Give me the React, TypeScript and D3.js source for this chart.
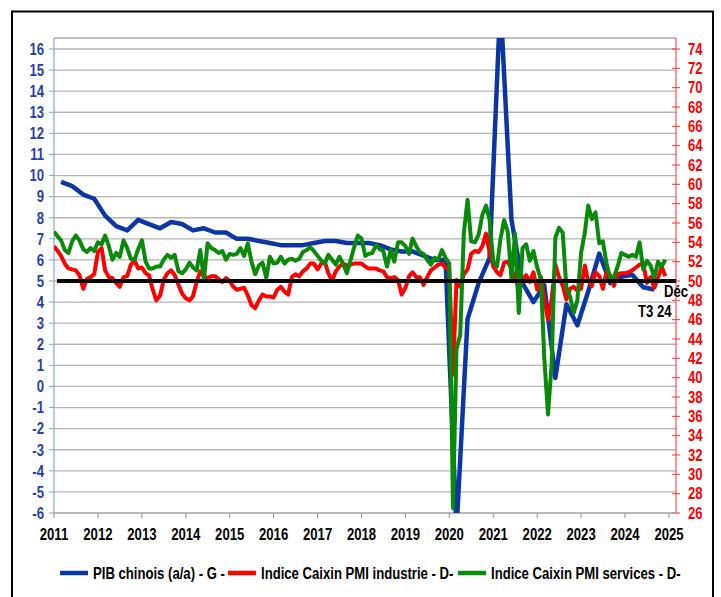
import { useEffect, useRef } from "react";
import * as d3 from "d3";

// axes
const yearTicks = d3.range(2011, 2026);
const leftTicks = d3.range(-6, 17);
const rightTicks = d3.range(26, 75, 2);

// PIB chinois (a/a), trimestriel, T1 2011 -> T3 2024
const gdp = [
  9.7, 9.5, 9.1, 8.9,
  8.1, 7.6, 7.4, 7.9,
  7.7, 7.5, 7.8, 7.7,
  7.4, 7.5, 7.3, 7.3,
  7.0, 7.0, 6.9, 6.8,
  6.7, 6.7, 6.7, 6.8,
  6.9, 6.9, 6.8, 6.8,
  6.8, 6.7, 6.5, 6.4,
  6.4, 6.2, 6.0, 6.0,
  -6.8, 3.2, 4.9, 6.1,
  18.3, 7.9, 4.9, 4.0,
  4.8, 0.4, 3.9, 2.9,
  4.5, 6.3, 4.9, 5.2,
  5.3, 4.7, 4.6,
];

// Caixin PMI industrie, mensuel, janv. 2011 -> déc. 2024
const pmiIndustry = [
  53.6, 53.1, 52.6, 51.8, 51.3, 51.2, 51.1, 50.6, 49.2, 50.2, 50.4, 50.7,
  53.0, 53.4, 51.1, 50.4, 50.3, 49.8, 49.4, 50.4, 50.5, 51.7, 52.1, 51.3,
  51.4, 50.8, 50.6, 49.1, 48.0, 48.5, 50.1, 50.8, 51.1, 50.6, 49.6, 48.7,
  48.2, 48.0, 48.4, 49.9, 51.0, 50.5, 50.3, 50.5, 50.5, 50.2, 49.9, 50.3,
  50.0, 49.4, 49.1, 49.2, 49.3, 48.5, 47.5, 47.2, 48.0, 48.6, 48.4, 48.4,
  48.3, 49.1, 49.4, 48.9, 48.6, 50.4, 50.7, 50.5, 51.0, 51.3, 51.8, 51.8,
  51.2, 51.8, 52.0, 50.8, 50.0, 51.0, 51.5, 51.8, 51.6, 51.7, 51.8, 51.8,
  51.8, 51.5, 51.3, 51.3, 51.3, 51.1, 51.0, 50.4, 50.3, 50.4, 50.1, 48.6,
  49.3, 50.5, 50.9, 50.4, 50.4, 49.6, 50.4, 51.1, 51.4, 51.7, 51.8, 51.4,
  51.1, 40.3, 50.1, 49.4, 50.7, 51.2, 52.8, 53.1, 53.0, 53.6, 54.9, 53.0,
  51.5, 50.9, 50.6, 51.9, 52.0, 51.3, 50.3, 49.2, 50.0, 50.6, 49.9, 50.9,
  49.1, 50.4, 48.1, 46.0, 48.1, 51.7, 50.4, 49.5, 48.1, 49.2, 49.4, 49.0,
  49.2, 51.6, 50.0, 49.5, 50.9, 50.5, 49.2, 51.0, 50.6, 49.5, 50.7, 50.8,
  50.8, 50.9, 51.1, 51.4, 51.7, 51.8, 49.8, 50.4, 49.3, 50.3, 51.5, 50.5,
];

// Caixin PMI services, mensuel, janv. 2011 -> déc. 2024
const pmiServices = [
  55.1, 54.6, 54.2, 53.2, 52.9, 54.1, 54.7, 54.2, 53.3, 53.0, 53.4, 53.1,
  54.0, 53.8, 54.7, 53.6, 52.2, 52.9, 52.5, 54.2, 53.4, 52.3, 52.2, 53.3,
  54.2, 52.0, 51.3, 51.3, 51.5, 51.5, 52.2, 52.7, 52.4, 52.7, 51.0, 50.8,
  51.2, 51.9, 51.4, 51.1, 53.2, 50.2, 53.9, 53.4, 53.2, 52.9, 53.1, 52.2,
  52.8, 52.7, 52.8, 53.4, 52.6, 53.9, 52.0, 50.7, 51.6, 51.9, 50.3, 52.5,
  51.8, 51.9, 52.5, 51.8, 52.2, 52.3, 52.1, 52.3, 53.0, 53.2, 53.5, 53.1,
  52.6, 52.1, 51.8, 52.7, 52.2, 51.7, 52.5, 51.8, 50.8, 52.1, 53.5, 54.7,
  54.4, 52.6, 52.8, 52.9, 53.7, 53.3, 53.1, 51.5, 53.2, 52.0, 54.0, 54.0,
  53.6, 52.8, 54.4, 53.6, 53.0, 52.8, 52.2, 51.7, 52.4, 52.2, 53.2, 52.4,
  51.8, 26.5, 43.0, 44.4, 55.0, 58.4, 54.1, 54.0, 54.8, 56.8, 57.8, 56.3,
  52.0, 51.5, 54.3, 56.3, 55.1, 50.3, 54.9, 46.7, 53.4, 53.8, 52.1, 53.1,
  51.4, 50.2, 42.0, 36.2, 41.4, 54.5, 55.5, 55.0, 49.3, 48.4, 46.7, 48.0,
  52.9, 55.0, 57.8, 56.4, 57.1, 53.9, 54.1, 51.8, 50.2, 50.4, 51.5, 52.9,
  52.7, 52.5, 52.7, 52.5, 54.0, 51.2, 52.1, 51.6, 50.3, 52.0, 51.5, 52.2,
];

const refLevel = 5; // = 50 sur l'axe de droite

const legendItems = [
  { label: "PIB chinois (a/a) - G -", color: "#0b36a4" },
  { label: "Indice Caixin PMI industrie - D-", color: "#ff0000" },
  { label: "Indice Caixin PMI services - D-", color: "#0a8a0a" },
];

const FONT = "'Liberation Sans', Arial, sans-serif";
const NARROW = 0.82; // fake Arial Narrow

const App = () => {
  const ref = useRef<SVGSVGElement>(null);

  useEffect(() => {
    const svg = d3.select(ref.current);
    svg.selectAll("*").remove();

    const left = 54, right = 676, top = 38, bottom = 513;

    const x = d3
      .scaleTime()
      .domain([new Date(2011, 0, 1), new Date(2025, 0, 1)])
      .range([left, 669]);
    const yL = d3.scaleLinear().domain([-6, 16]).range([bottom, 49]);
    const yR = d3.scaleLinear().domain([26, 74]).range([bottom, 49]);

    // condensed bold text at (px, py)
    const label = (
      g: d3.Selection<any, any, any, any>,
      px: number,
      py: number,
      txt: string | number,
      color = "#000",
      anchor = "start",
      dy = "0"
    ) =>
      g
        .append("text")
        .attr("transform", `translate(${px},${py}) scale(${NARROW},1)`)
        .attr("dy", dy)
        .attr("text-anchor", anchor)
        .attr("font-family", FONT)
        .attr("font-weight", "bold")
        .attr("font-size", 16)
        .attr("fill", color)
        .text(txt);

    svg.append("rect").attr("width", 721).attr("height", 597).attr("fill", "#fff");
    svg
      .append("rect")
      .attr("x", 12)
      .attr("y", 11.5)
      .attr("width", 701)
      .attr("height", 620)
      .attr("fill", "none")
      .attr("stroke", "#000")
      .attr("stroke-width", 2);

    // grid
    svg
      .append("g")
      .selectAll("line")
      .data(leftTicks.filter((d) => d > -6))
      .join("line")
      .attr("x1", left)
      .attr("x2", right)
      .attr("y1", (d) => yL(d))
      .attr("y2", (d) => yL(d))
      .attr("stroke", "#b5b5b5")
      .attr("stroke-width", 1.3);
    svg
      .append("line")
      .attr("x1", left)
      .attr("x2", right)
      .attr("y1", top)
      .attr("y2", top)
      .attr("stroke", "#a8a8a8")
      .attr("stroke-width", 1.3);

    // left axis
    const gl = svg.append("g");
    gl.append("line")
      .attr("x1", left)
      .attr("x2", left)
      .attr("y1", top)
      .attr("y2", bottom)
      .attr("stroke", "#9aaad2")
      .attr("stroke-width", 1.3);
    gl.selectAll(".tk")
      .data(leftTicks)
      .join("line")
      .attr("x1", left - 5)
      .attr("x2", left)
      .attr("y1", (d) => yL(d))
      .attr("y2", (d) => yL(d))
      .attr("stroke", "#8f9fc8");
    leftTicks.forEach((d) => label(gl, 44, yL(d), d, "#2540a8", "end", "0.36em"));

    // right axis
    const gr = svg.append("g");
    gr.append("line")
      .attr("x1", right)
      .attr("x2", right)
      .attr("y1", top)
      .attr("y2", bottom)
      .attr("stroke", "#ff3030")
      .attr("stroke-width", 1);
    gr.selectAll(".tk")
      .data(rightTicks)
      .join("line")
      .attr("x1", right - 4)
      .attr("x2", right + 4)
      .attr("y1", (d) => yR(d))
      .attr("y2", (d) => yR(d))
      .attr("stroke", "#ff3030");
    rightTicks.forEach((d) => label(gr, 688, yR(d), d, "#ff0000", "start", "0.36em"));

    // x axis
    const gx = svg.append("g");
    gx.append("line")
      .attr("x1", left)
      .attr("x2", right)
      .attr("y1", bottom)
      .attr("y2", bottom)
      .attr("stroke", "#a0a0a0")
      .attr("stroke-width", 1.3);
    gx.selectAll(".tk")
      .data(yearTicks)
      .join("line")
      .attr("x1", (d) => x(new Date(d, 0, 1)))
      .attr("x2", (d) => x(new Date(d, 0, 1)))
      .attr("y1", bottom)
      .attr("y2", bottom + 5)
      .attr("stroke", "#909090");
    yearTicks.forEach((d) => label(gx, x(new Date(d, 0, 1)), 540, d, "#000", "middle"));

    // series
    svg
      .append("clipPath")
      .attr("id", "plot-clip")
      .append("rect")
      .attr("x", left)
      .attr("y", top)
      .attr("width", right - left)
      .attr("height", bottom - top);
    const plot = svg.append("g").attr("clip-path", "url(#plot-clip)");

    const lineL = d3
      .line<number>()
      .x((_, i) => x(new Date(2011, i * 3 + 2, 1)))
      .y((d) => yL(d));
    const lineR = d3
      .line<number>()
      .x((_, i) => x(new Date(2011, i, 1)))
      .y((d) => yR(d));

    const draw = (path: string | null, color: string, w: number) =>
      plot
        .append("path")
        .attr("d", path)
        .attr("fill", "none")
        .attr("stroke", color)
        .attr("stroke-width", w)
        .attr("stroke-linejoin", "round");

    draw(lineL(gdp), legendItems[0].color, 4.5);
    draw(lineR(pmiIndustry), legendItems[1].color, 4);
    draw(lineR(pmiServices), legendItems[2].color, 4);

    svg
      .append("line")
      .attr("x1", 57)
      .attr("x2", right)
      .attr("y1", yL(refLevel))
      .attr("y2", yL(refLevel))
      .attr("stroke", "#000")
      .attr("stroke-width", 4);

    // annotations
    label(svg, 664, 297, "Déc");
    label(svg, 638, 317, "T3 24");

    // legend
    const legendX = [60, 228, 458];
    const lg = svg.append("g");
    legendItems.forEach((it, i) => {
      lg.append("line")
        .attr("x1", legendX[i])
        .attr("x2", legendX[i] + 28)
        .attr("y1", 573)
        .attr("y2", 573)
        .attr("stroke", it.color)
        .attr("stroke-width", 4.5);
      label(lg, legendX[i] + 33, 579, it.label);
    });
  }, []);

  return (
    <svg
      ref={ref}
      width={721}
      height={597}
      style={{ position: "absolute", left: 0, top: 0 }}
    />
  );
};

export default App;
